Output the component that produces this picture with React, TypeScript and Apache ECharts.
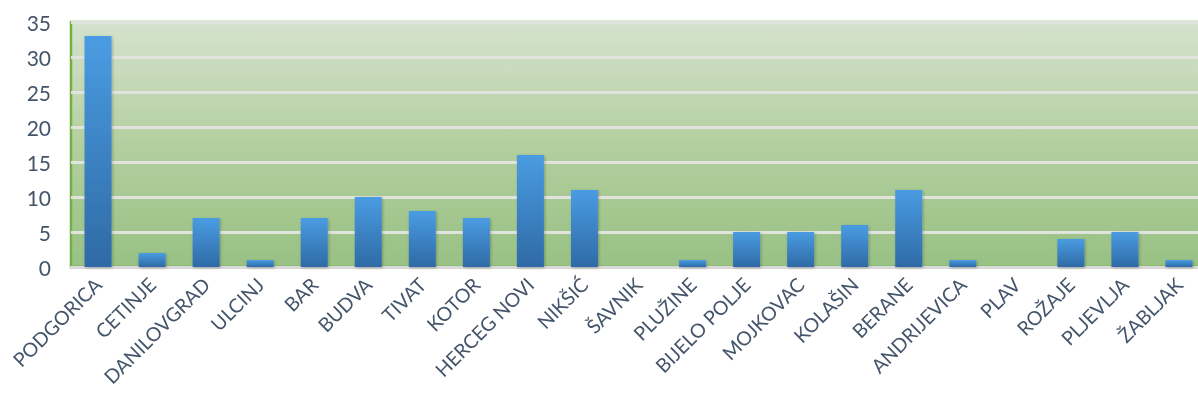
import React, { useEffect, useRef } from "react";
import * as echarts from "echarts";

const categories = [
  "PODGORICA", "CETINJE", "DANILOVGRAD", "ULCINJ", "BAR", "BUDVA", "TIVAT", "KOTOR",
  "HERCEG NOVI", "NIKŠIĆ", "ŠAVNIK", "PLUŽINE", "BIJELO POLJE", "MOJKOVAC", "KOLAŠIN",
  "BERANE", "ANDRIJEVICA", "PLAV", "ROŽAJE", "PLJEVLJA", "ŽABLJAK",
];
const values = [33, 2, 7, 1, 7, 10, 8, 7, 16, 11, 0, 1, 5, 5, 6, 11, 1, 0, 4, 5, 1];
const yMin = 0;
const yMax = 35;
const yStep = 5;

export default function App() {
  const ref = useRef<HTMLDivElement>(null);
  useEffect(() => {
    if (!ref.current) return;
    const chart = echarts.init(ref.current, null, { renderer: "svg" });
    const font = "Lato, 'Open Sans', sans-serif";
    chart.setOption({
      animation: false,
      grid: {
        left: 71,
        right: 0,
        top: 22,
        bottom: 135,
        show: true,
        borderColor: "#74ae46",
        borderWidth: 2.5,
        backgroundColor: new echarts.graphic.LinearGradient(0, 0, 0, 1, [
          { offset: 0, color: "#d5e2ce" },
          { offset: 0.5, color: "#b3cf9f" },
          { offset: 1, color: "#98c184" },
        ]),
      },
      xAxis: {
        type: "category",
        data: categories,
        axisLine: { show: true, lineStyle: { color: "#d9d9d9", width: 3 } },
        axisTick: { show: false },
        axisLabel: {
          rotate: 45,
          interval: 0,
          margin: 14,
          color: "#44546a",
          fontSize: 19.5,
          fontFamily: font,
        },
      },
      yAxis: {
        type: "value",
        min: yMin,
        max: yMax,
        interval: yStep,
        axisLine: { show: false },
        axisTick: { show: false },
        splitLine: { lineStyle: { color: "#e0e3de", width: 3 } },
        axisLabel: {
          color: "#44546a",
          fontSize: 21,
          margin: 20,
          fontFamily: font,
        },
      },
      series: [
        {
          type: "bar",
          data: values,
          barWidth: 27,
          itemStyle: {
            color: new echarts.graphic.LinearGradient(0, 0, 0, 1, [
              { offset: 0, color: "#4a9ce2" },
              { offset: 1, color: "#2f6aa6" },
            ]),
            shadowColor: "rgba(0,0,0,0.25)",
            shadowBlur: 3,
            shadowOffsetX: 1,
            shadowOffsetY: 1,
          },
        },
      ],
    });
    return () => chart.dispose();
  }, []);
  return (
    <div
      ref={ref}
      style={{ position: "fixed", left: 0, top: 0, width: 1206, height: 402 }}
    />
  );
}
